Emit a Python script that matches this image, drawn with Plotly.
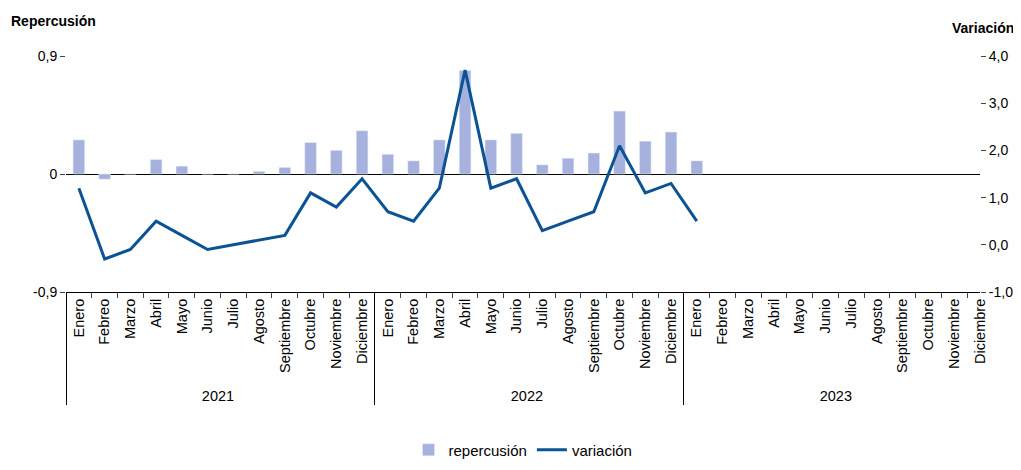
import plotly.graph_objects as go

months = ["Enero","Febreo","Marzo","Abril","Mayo","Junio","Julio","Agosto","Septiembre","Octubre","Noviembre","Diciembre"]
years = ["2021","2022","2023"]
repercusion = [0.26,-0.04,0.0,0.11,0.06,0.0,0.0,0.02,0.05,0.24,0.18,0.33,
               0.15,0.10,0.26,0.79,0.26,0.31,0.07,0.12,0.16,0.48,0.25,0.32,
               0.10]
variacion = [1.2,-0.3,-0.1,0.5,0.2,-0.1,0.0,0.1,0.2,1.1,0.8,1.4,
             0.7,0.5,1.2,3.7,1.2,1.4,0.3,0.5,0.7,2.1,1.1,1.3,
             0.5]

xy = [y for y in years for m in months]
xm = [m for y in years for m in months]
n = len(repercusion)

fig = go.Figure()
fig.add_trace(go.Bar(x=[xy[:n], xm[:n]], y=repercusion, name="repercusión",
                     marker_color="#a7b1de", width=0.45))
fig.add_trace(go.Scatter(x=[xy[:n], xm[:n]], y=variacion, name="variación", yaxis="y2",
                         mode="lines", line=dict(color="#0b5394", width=3)))
fig.add_trace(go.Scatter(x=[xy, xm], y=[None]*len(xy), showlegend=False, hoverinfo="skip"))

fig.update_layout(
    width=1013, height=454, plot_bgcolor="white", paper_bgcolor="white",
    font=dict(family="Liberation Sans, Arial", size=13, color="black"),
    margin=dict(l=58, r=41, t=48, b=170, autoexpand=False),
    xaxis=dict(type="multicategory", tickangle=-90, showline=True, linecolor="black",
               ticks="outside", showgrid=False, showdividers=True, dividercolor="black",
               tickfont=dict(size=14.5)),
    yaxis=dict(range=[-0.9, 0.9], tickvals=[-0.9, 0, 0.9], ticktext=["-0,9", "0", "0,9"],
               showgrid=False, zeroline=True, zerolinecolor="black", zerolinewidth=1,
               ticks="outside", ticklen=5, tickfont=dict(size=14)),
    yaxis2=dict(range=[-1, 4], overlaying="y", side="right", showgrid=False, zeroline=False,
                tickvals=[-1, 0, 1, 2, 3, 4], ticktext=["-1,0", "0,0", "1,0", "2,0", "3,0", "4,0"],
                ticks="outside", ticklen=5, tickfont=dict(size=14)),
    legend=dict(orientation="h", x=0.5, xanchor="center", y=-0.6, yanchor="top",
                font=dict(size=15)),
    annotations=[
        dict(text="<b>Repercusión</b>", x=-0.062, y=1.15, xref="paper", yref="paper", showarrow=False,
             xanchor="left", yanchor="middle", font=dict(size=14)),
        dict(text="<b>Variación</b>", x=1.039, y=1.12, xref="paper", yref="paper", showarrow=False,
             xanchor="right", yanchor="middle", font=dict(size=14)),
    ],
)
fig.write_html("out.html")
